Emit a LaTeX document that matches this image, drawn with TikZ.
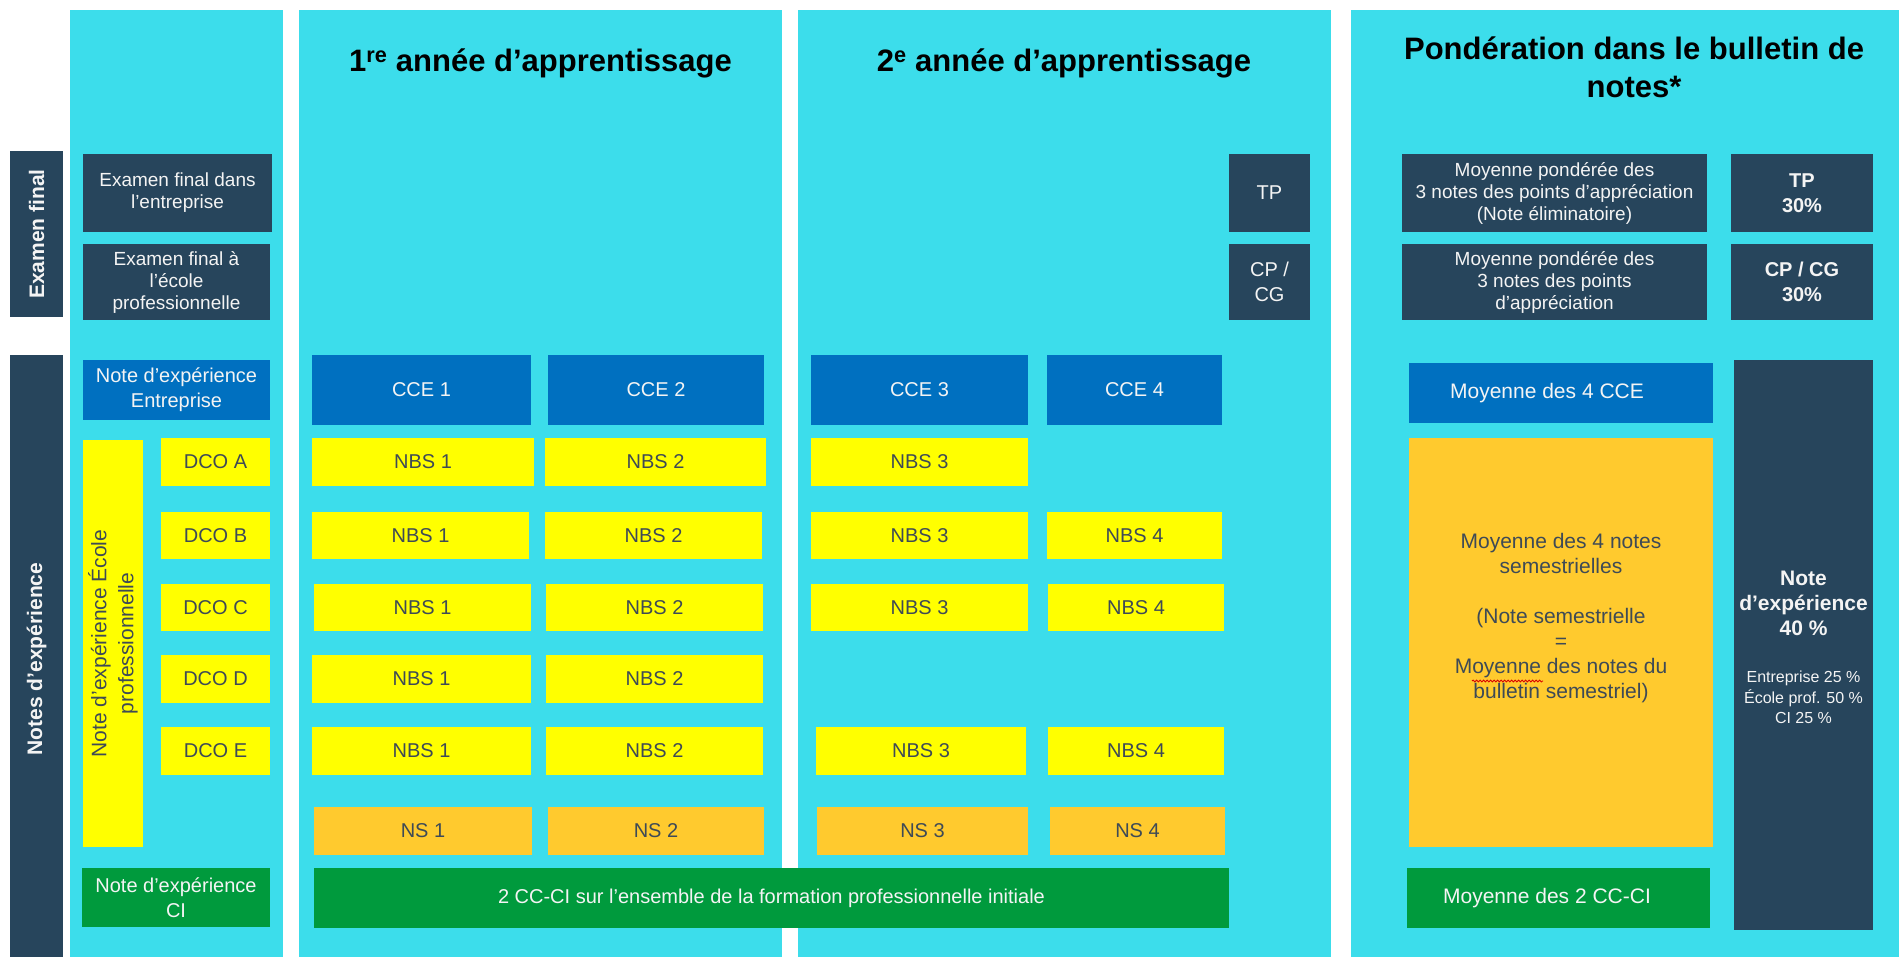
\documentclass[tikz,border=0pt]{standalone}
\usepackage{fontspec}
\setmainfont{Liberation Sans}
\usetikzlibrary{decorations.pathmorphing}
\definecolor{cyanbg}{HTML}{3CDDEB}
\definecolor{darkbx}{HTML}{27455C}
\definecolor{bluebx}{HTML}{0070C0}
\definecolor{yelbx}{HTML}{FFFF00}
\definecolor{orabx}{HTML}{FFCA2E}
\definecolor{grnbx}{HTML}{009A3D}
\definecolor{txtdk}{HTML}{3E4A56}
\definecolor{txtwh}{HTML}{F4F4F4}
\newcommand\fsz[2]{\fontsize{#1}{#2}\selectfont}
\newcommand\rbox[7]{\node[#2, minimum width={(#5)-(#3)}, minimum height={(#6)-(#4)}] (#1) at ({((#3)+(#5))/2},{((#4)+(#6))/2}) {#7};}
\begin{document}
\begin{tikzpicture}[x=1pt,y=-1pt,
  cell/.style={inner sep=0pt, outer sep=0pt, align=center, anchor=center, draw=none},
  bgcol/.style={cell, fill=cyanbg},
  darkcell/.style={cell, fill=darkbx, text=txtwh, font=\fsz{20}{25}},
  bluecell/.style={cell, fill=bluebx, text=txtwh, font=\fsz{20}{25}},
  yelcell/.style={cell, fill=yelbx, text=txtdk, font=\fsz{20}{25}},
  oracell/.style={cell, fill=orabx, text=txtdk, font=\fsz{20}{25}},
  grncell/.style={cell, fill=grnbx, text=txtwh, font=\fsz{20}{25}},
  smalltxt/.style={font=\fsz{19}{22}},
  ttl/.style={inner sep=0pt, anchor=base, text=black, font=\bfseries\fsz{31}{38}},
  vtxt/.style={inner sep=0pt, rotate=90, align=center, anchor=center}
]
\useasboundingbox (0,0) rectangle (1899,957);
\fill[white] (0,0) rectangle (1899,957);
% column backgrounds
\rbox{col0}{bgcol}{70}{10}{283}{957}{}
\rbox{col1}{bgcol}{299}{10}{782}{957}{}
\rbox{col2}{bgcol}{798}{10}{1331}{957}{}
\rbox{col3}{bgcol}{1351}{10}{1899}{957}{}
% titles
\node[ttl] (t1) at (540.5,72) {1\textsuperscript{re} année d’apprentissage};
\node[ttl] (t2) at (1064,72) {2\textsuperscript{e} année d’apprentissage};
\node[ttl] (t3a) at (1634,60) {Pondération dans le bulletin de};
\node[ttl] (t3b) at (1634,98) {notes*};
% left bars
\rbox{exbar}{darkcell}{10}{151}{63}{317}{}
\node[vtxt, text=txtwh, font=\bfseries\fsz{21}{25}] (extxt) at (exbar.center) {Examen final};
\rbox{nebar}{darkcell}{10}{355}{63}{957}{}
\node[vtxt, text=txtwh, font=\bfseries\fsz{21}{25}] (netxt) at (36.5,659) {Notes d’expérience};
% column 0
\rbox{ef1}{darkcell,smalltxt}{83}{154}{272}{232}{Examen final dans\\l’entreprise}
\rbox{ef2}{darkcell,smalltxt}{83}{244}{270}{320}{Examen final à\\l’école\\professionnelle}
\rbox{neE}{bluecell}{83}{360}{270}{420}{Note d’expérience\\Entreprise}
\rbox{neEP}{yelcell}{83}{440}{143}{847}{}
\node[vtxt, text=txtdk, font=\fsz{21}{27}] (neEPtxt) at (neEP.center) {Note d’expérience École\\professionnelle};
\rbox{dcoA}{yelcell}{161}{438}{270}{486}{DCO A}
\rbox{dcoB}{yelcell}{161}{512}{270}{559}{DCO B}
\rbox{dcoC}{yelcell}{161}{584}{270}{631}{DCO C}
\rbox{dcoD}{yelcell}{161}{655}{270}{703}{DCO D}
\rbox{dcoE}{yelcell}{161}{727}{270}{775}{DCO E}
\rbox{neCI}{grncell}{82}{868}{270}{927}{Note d’expérience\\CI}
% column 1
\rbox{cce1}{bluecell}{312}{355}{531}{425}{CCE 1}
\rbox{cce2}{bluecell}{548}{355}{764}{425}{CCE 2}
\rbox{nbs1a}{yelcell}{312}{438}{534}{486}{NBS 1}
\rbox{nbs2a}{yelcell}{545}{438}{766}{486}{NBS 2}
\rbox{nbs1b}{yelcell}{312}{512}{529}{559}{NBS 1}
\rbox{nbs2b}{yelcell}{545}{512}{762}{559}{NBS 2}
\rbox{nbs1c}{yelcell}{314}{584}{531}{631}{NBS 1}
\rbox{nbs2c}{yelcell}{546}{584}{763}{631}{NBS 2}
\rbox{nbs1d}{yelcell}{312}{655}{531}{703}{NBS 1}
\rbox{nbs2d}{yelcell}{546}{655}{763}{703}{NBS 2}
\rbox{nbs1e}{yelcell}{312}{727}{531}{775}{NBS 1}
\rbox{nbs2e}{yelcell}{546}{727}{763}{775}{NBS 2}
\rbox{ns1}{oracell}{314}{807}{532}{855}{NS 1}
\rbox{ns2}{oracell}{548}{807}{764}{855}{NS 2}
\rbox{ccci}{grncell}{314}{868}{1229}{928}{2 CC-CI sur l’ensemble de la formation professionnelle initiale}
% column 2
\rbox{tp}{darkcell}{1229}{154}{1310}{232}{TP}
\rbox{cpcg}{darkcell}{1229}{244}{1310}{320}{CP /\\CG}
\rbox{cce3}{bluecell}{811}{355}{1028}{425}{CCE 3}
\rbox{cce4}{bluecell}{1047}{355}{1222}{425}{CCE 4}
\rbox{nbs3a}{yelcell}{811}{438}{1028}{486}{NBS 3}
\rbox{nbs3b}{yelcell}{811}{512}{1028}{559}{NBS 3}
\rbox{nbs4b}{yelcell}{1047}{512}{1222}{559}{NBS 4}
\rbox{nbs3c}{yelcell}{811}{584}{1028}{631}{NBS 3}
\rbox{nbs4c}{yelcell}{1048}{584}{1224}{631}{NBS 4}
\rbox{nbs3e}{yelcell}{816}{727}{1026}{775}{NBS 3}
\rbox{nbs4e}{yelcell}{1048}{727}{1224}{775}{NBS 4}
\rbox{ns3}{oracell}{817}{807}{1028}{855}{NS 3}
\rbox{ns4}{oracell}{1050}{807}{1225}{855}{NS 4}
% column 3
\rbox{mp1}{darkcell,smalltxt}{1402}{154}{1707}{232}{Moyenne pondérée des\\3 notes des points d’appréciation\\(Note éliminatoire)}
\rbox{tp30}{darkcell,font=\bfseries\fsz{20}{25}}{1731}{154}{1873}{232}{TP\\30\%}
\rbox{mp2}{darkcell,smalltxt}{1402}{244}{1707}{320}{Moyenne pondérée des\\3 notes des points\\d’appréciation}
\rbox{cp30}{darkcell,font=\bfseries\fsz{20}{25}}{1731}{244}{1873}{320}{CP / CG\\30\%}
\rbox{m4cce}{bluecell}{1409}{363}{1713}{423}{}
\node[text=txtwh, font=\fsz{21}{25}, inner sep=0pt] (m4ccetxt) at (1547,393) {Moyenne des 4 CCE};
\rbox{sem}{oracell}{1409}{438}{1713}{847}{}
\node[text=txtdk, font=\fsz{21}{25}, align=center, inner sep=0pt] (semtxt) at (1561,618) {Moyenne des 4 notes\\semestrielles\\[25pt](Note semestrielle\\=\\Moyenne des notes du\\bulletin semestriel)};
\draw[red!85!black, line width=0.8pt, decorate, decoration={snake, amplitude=1pt, segment length=3.5pt}] (1472,681) -- (1543,681);
\rbox{nexp40}{darkcell}{1734}{360}{1873}{930}{}
\node[text=txtwh, font=\bfseries\fsz{21}{25}, align=center, inner sep=0pt] (nexptxt) at (1803.5,603.5) {Note\\d’expérience\\40 \%};
\node[text=txtwh, font=\fsz{16}{20.5}, align=center, inner sep=0pt] (nexpsub) at (1803.5,697.5) {Entreprise 25 \%\\École prof. 50 \%\\CI 25 \%};
\rbox{m2cc}{grncell}{1407}{868}{1710}{928}{}
\node[text=txtwh, font=\fsz{21}{25}, inner sep=0pt] (m2cctxt) at (1547,898) {Moyenne des 2 CC-CI};
\end{tikzpicture}
\end{document}
